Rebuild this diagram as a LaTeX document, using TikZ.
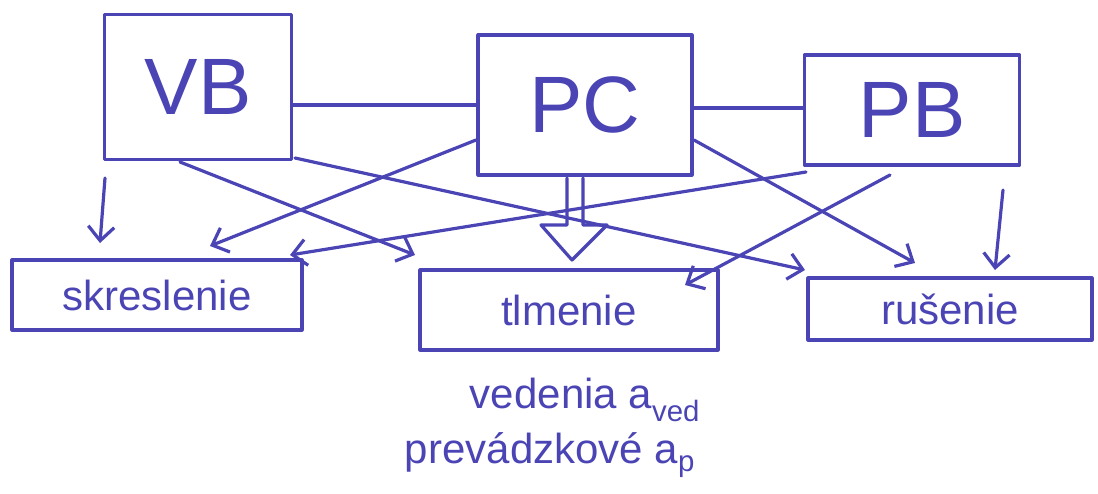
\documentclass[tikz,border=0pt]{standalone}
\usepackage{fontspec}
\setmainfont{Liberation Sans}
\usetikzlibrary{arrows.meta}
\definecolor{pen}{HTML}{4A44B4}
\begin{document}
\begin{tikzpicture}[x=1pt,y=-1pt,
  pen/.style={draw=pen, line width=3.2pt, line cap=round, line join=round},
  bigbox/.style={pen, rectangle, inner sep=0pt, text=pen, font=\fontsize{80}{80}\selectfont},
  lowbox/.style={pen, rectangle, inner sep=0pt, text=pen, font=\fontsize{42}{42}\selectfont},
  arr/.style={pen, -{Straight Barb[length=14pt,width=26pt,line width=3.2pt]}},
  note/.style={text=pen, font=\fontsize{42}{42}\selectfont}]
\useasboundingbox (0,0) rectangle (1098,493);
% top boxes
\node[bigbox, minimum width=187pt, minimum height=145pt] (vb) at (198,87) {VB};
\node[bigbox, minimum width=214pt, minimum height=140pt] (pc) at (585,105) {PC};
\node[bigbox, minimum width=215pt, minimum height=110pt] (pb) at (912,110) {PB};
% bottom boxes
\node[lowbox, minimum width=290pt, minimum height=70pt] (skr) at (157,295) {skreslenie};
\node[lowbox, minimum width=298pt, minimum height=80pt] (tlm) at (569,310) {tlmenie};
\node[lowbox, minimum width=284pt, minimum height=62pt] (rus) at (950,309) {rušenie};
% notes
\node[note] (n1) at (585,400) {vedenia a\textsubscript{ved}};
\node[note] (n2) at (550,455) {prevádzkové a\textsubscript{p}};
% arrow tip coordinates
\coordinate (t1) at (100,243);
\coordinate (t2) at (415,255);
\coordinate (t3) at (805,270);
\coordinate (t4) at (210,246);
\coordinate (t5) at (915,263);
\coordinate (t6) at (290,255);
\coordinate (t7) at (685,285);
\coordinate (t8) at (995,270);
% start coordinates
\coordinate (s1) at (105,178);
\coordinate (s2) at (180,162);
\coordinate (s3) at (295,158);
\coordinate (s4) at (476,140);
\coordinate (s5) at (694,140);
\coordinate (s6) at (806,172);
\coordinate (s7) at (890,175);
\coordinate (s8) at (1003,190);
% horizontal links
\draw[pen] (vb.east |- pc.west) -- (pc.west);
\draw[pen] ([yshift=-3pt]pc.east) -- ([yshift=-3pt]pc.east -| pb.west);
% arrows
\draw[arr] (s1) -- (t1);
\draw[arr] (s2) -- (t2);
\draw[arr] (s3) -- (t3);
\draw[arr] (s4) -- (t4);
\draw[arr] (s5) -- (t5);
\draw[arr] (s6) -- (t6);
\draw[arr] (s7) -- (t7);
\draw[arr] (s8) -- (t8);
% block arrow PC -> tlmenie
\draw[pen] (567,178) -- (567,225) -- (541,225) -- (572,260) -- (607,225) -- (583,225) -- (583,178);
\end{tikzpicture}
\end{document}
